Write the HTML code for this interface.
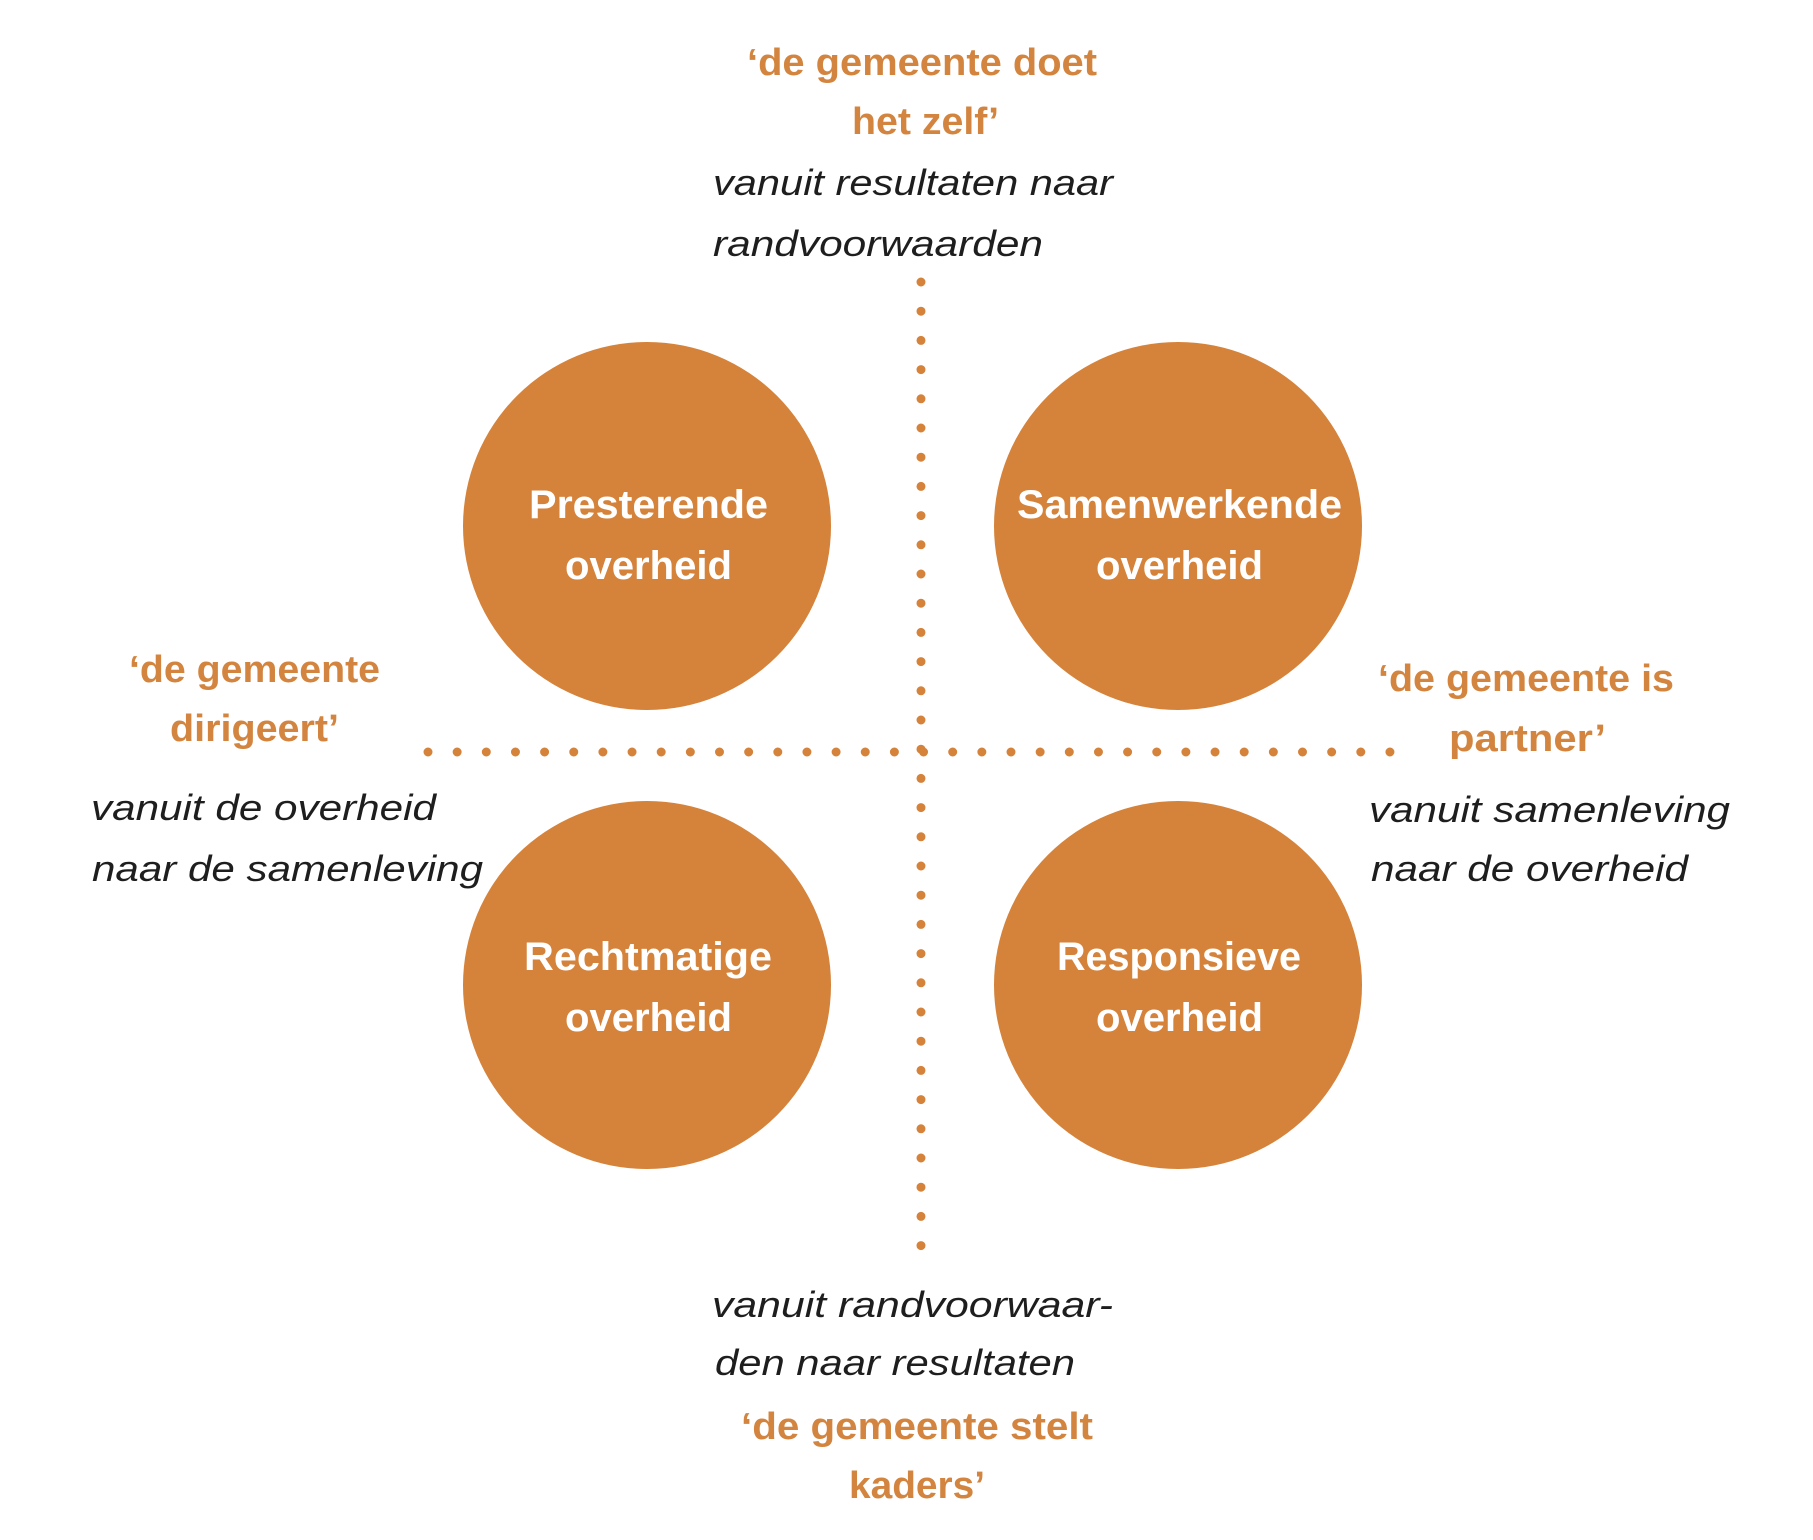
<!DOCTYPE html>
<html><head><meta charset="utf-8"><style>
html,body{margin:0;padding:0;background:#fff;}
svg{display:block;}
.o{font-family:"Liberation Sans",sans-serif;font-weight:bold;font-size:38px;fill:#D3853F;}
.i{font-family:"Liberation Sans",sans-serif;font-style:italic;font-size:36px;fill:#1e1e1e;}
.w{font-family:"Liberation Sans",sans-serif;font-weight:bold;font-size:40px;fill:#fff;}
</style></head><body>
<svg width="1813" height="1540" viewBox="0 0 1813 1540" xmlns="http://www.w3.org/2000/svg">
<g fill="#D5823A">
<circle cx="647" cy="526" r="184"/>
<circle cx="1178" cy="526" r="184"/>
<circle cx="647" cy="985" r="184"/>
<circle cx="1178" cy="985" r="184"/>
</g>
<line x1="921" y1="282" x2="921" y2="1248" stroke="#D5823A" stroke-width="9" stroke-linecap="round" stroke-dasharray="0 29.2"/>
<line x1="428" y1="752" x2="1393" y2="752" stroke="#D5823A" stroke-width="9" stroke-linecap="round" stroke-dasharray="0 29.15"/>

<text class="o" x="747" y="75" textLength="350" lengthAdjust="spacingAndGlyphs">‘de gemeente doet</text>
<text class="o" x="852" y="134" textLength="147" lengthAdjust="spacingAndGlyphs">het zelf’</text>
<text class="i" x="713" y="195" textLength="400" lengthAdjust="spacingAndGlyphs">vanuit resultaten naar</text>
<text class="i" x="713" y="256" textLength="330" lengthAdjust="spacingAndGlyphs">randvoorwaarden</text>

<text class="w" x="529" y="518" textLength="239" lengthAdjust="spacingAndGlyphs">Presterende</text>
<text class="w" x="565" y="579" textLength="167" lengthAdjust="spacingAndGlyphs">overheid</text>
<text class="w" x="1017" y="518" textLength="325" lengthAdjust="spacingAndGlyphs">Samenwerkende</text>
<text class="w" x="1096" y="579" textLength="167" lengthAdjust="spacingAndGlyphs">overheid</text>
<text class="w" x="524" y="970" textLength="248" lengthAdjust="spacingAndGlyphs">Rechtmatige</text>
<text class="w" x="565" y="1031" textLength="167" lengthAdjust="spacingAndGlyphs">overheid</text>
<text class="w" x="1057" y="970" textLength="244" lengthAdjust="spacingAndGlyphs">Responsieve</text>
<text class="w" x="1096" y="1031" textLength="167" lengthAdjust="spacingAndGlyphs">overheid</text>

<text class="o" x="129" y="682" textLength="251" lengthAdjust="spacingAndGlyphs">‘de gemeente</text>
<text class="o" x="170" y="741" textLength="169" lengthAdjust="spacingAndGlyphs">dirigeert’</text>
<text class="i" x="91" y="820" textLength="345" lengthAdjust="spacingAndGlyphs">vanuit de overheid</text>
<text class="i" x="92" y="881" textLength="391" lengthAdjust="spacingAndGlyphs">naar de samenleving</text>

<text class="o" x="1378" y="691" textLength="296" lengthAdjust="spacingAndGlyphs">‘de gemeente is</text>
<text class="o" x="1449" y="751" textLength="157" lengthAdjust="spacingAndGlyphs">partner’</text>
<text class="i" x="1369" y="822" textLength="361" lengthAdjust="spacingAndGlyphs">vanuit samenleving</text>
<text class="i" x="1371" y="881" textLength="317" lengthAdjust="spacingAndGlyphs">naar de overheid</text>

<text class="i" x="712" y="1317" textLength="401" lengthAdjust="spacingAndGlyphs">vanuit randvoorwaar-</text>
<text class="i" x="715" y="1375" textLength="360" lengthAdjust="spacingAndGlyphs">den naar resultaten</text>
<text class="o" x="741" y="1439" textLength="352" lengthAdjust="spacingAndGlyphs">‘de gemeente stelt</text>
<text class="o" x="849" y="1498" textLength="136" lengthAdjust="spacingAndGlyphs">kaders’</text>
</svg>
</body></html>
